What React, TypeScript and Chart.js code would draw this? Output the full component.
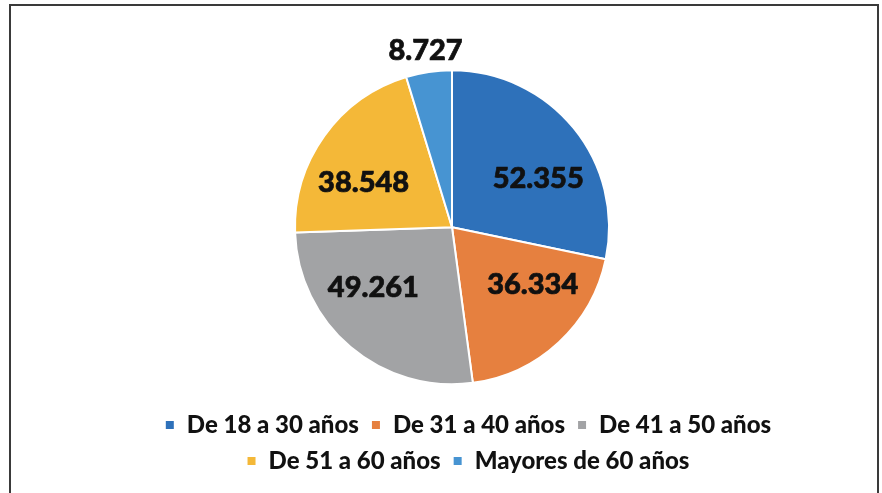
import React, { useEffect, useRef } from "react";
import { Chart, registerables } from "chart.js";

Chart.register(...registerables);

const categories = [
  "De 18 a 30 años",
  "De 31 a 40 años",
  "De 41 a 50 años",
  "De 51 a 60 años",
  "Mayores de 60 años",
];
const values = [52355, 36334, 49261, 38548, 8727];
const valueLabels = ["52.355", "36.334", "49.261", "38.548", "8.727"];
const sliceColors = ["#2E71BA", "#E6803F", "#A2A3A5", "#F4B838", "#4794D2"];

const labelPlugin = {
  id: "sliceLabels",
  afterDatasetsDraw(chart: any) {
    const ctx = chart.ctx;
    const meta = chart.getDatasetMeta(0);
    const total = values.reduce((a, b) => a + b, 0);
    ctx.save();
    ctx.font = "900 29px Lato";
    ctx.fillStyle = "#111111";
    ctx.strokeStyle = "#111111";
    ctx.lineWidth = 0.7;
    ctx.textAlign = "center";
    ctx.textBaseline = "middle";
    meta.data.forEach((arc: any, i: number) => {
      const p = arc.getProps(["x", "y", "startAngle", "endAngle", "outerRadius"], true);
      let mid = (p.startAngle + p.endAngle) / 2;
      const frac = values[i] / total;
      let r: number;
      if (frac < 0.08) {
        r = p.outerRadius + 22;
      } else {
        // best-fit: pull wide labels toward the horizontal axis
        const a = Math.atan2(Math.sin(mid), Math.cos(mid));
        const target = Math.abs(a) < Math.PI / 2 ? 0 : a > 0 ? Math.PI : -Math.PI;
        mid = a + (target - a) * 0.25;
        r = p.outerRadius * 0.63;
      }
      const x = p.x + Math.cos(mid) * r;
      const y = p.y + Math.sin(mid) * r;
      ctx.fillText(valueLabels[i], x, y);
      ctx.strokeText(valueLabels[i], x, y);
    });
    ctx.restore();
  },
};

export default function App() {
  const ref = useRef<HTMLCanvasElement | null>(null);
  useEffect(() => {
    if (!ref.current) return;
    const chart = new Chart(ref.current, {
      type: "pie",
      data: {
        labels: categories,
        datasets: [
          {
            data: values,
            backgroundColor: sliceColors,
            borderColor: "#ffffff",
            borderWidth: 2,
          },
        ],
      },
      options: {
        responsive: false,
        animation: false,
        devicePixelRatio: 1,
        radius: 157,
        layout: { padding: { top: 43.5, bottom: 2, left: 0, right: 0 } },
        plugins: {
          tooltip: { enabled: false },
          title: {
            display: true,
            text: " ",
            position: "right",
            fullSize: false,
            font: { size: 20, lineHeight: 1 },
            padding: { top: 6, bottom: 6 },
          },
          legend: {
            position: "bottom",
            labels: {
              boxWidth: 10,
              boxHeight: 10,
              padding: 12,
              color: "#111111",
              font: { family: "Lato", weight: "900", size: 24 },
            },
          },
        },
      },
      plugins: [labelPlugin],
    });
    return () => chart.destroy();
  }, []);

  return (
    <div style={{ position: "absolute", left: 0, top: 0, width: 882, height: 493, background: "#fff", overflow: "hidden" }}>
      <div
        style={{
          position: "absolute",
          left: 9,
          top: 4,
          width: 870,
          height: 489,
          boxSizing: "border-box",
          borderTop: "2px solid #3a3a3a",
          borderLeft: "2px solid #3a3a3a",
          borderRight: "2px solid #3a3a3a",
        }}
      />
      <canvas
        ref={ref}
        width={700}
        height={475}
        style={{ position: "absolute", left: 118, top: 10, width: 700, height: 475 }}
      />
    </div>
  );
}
